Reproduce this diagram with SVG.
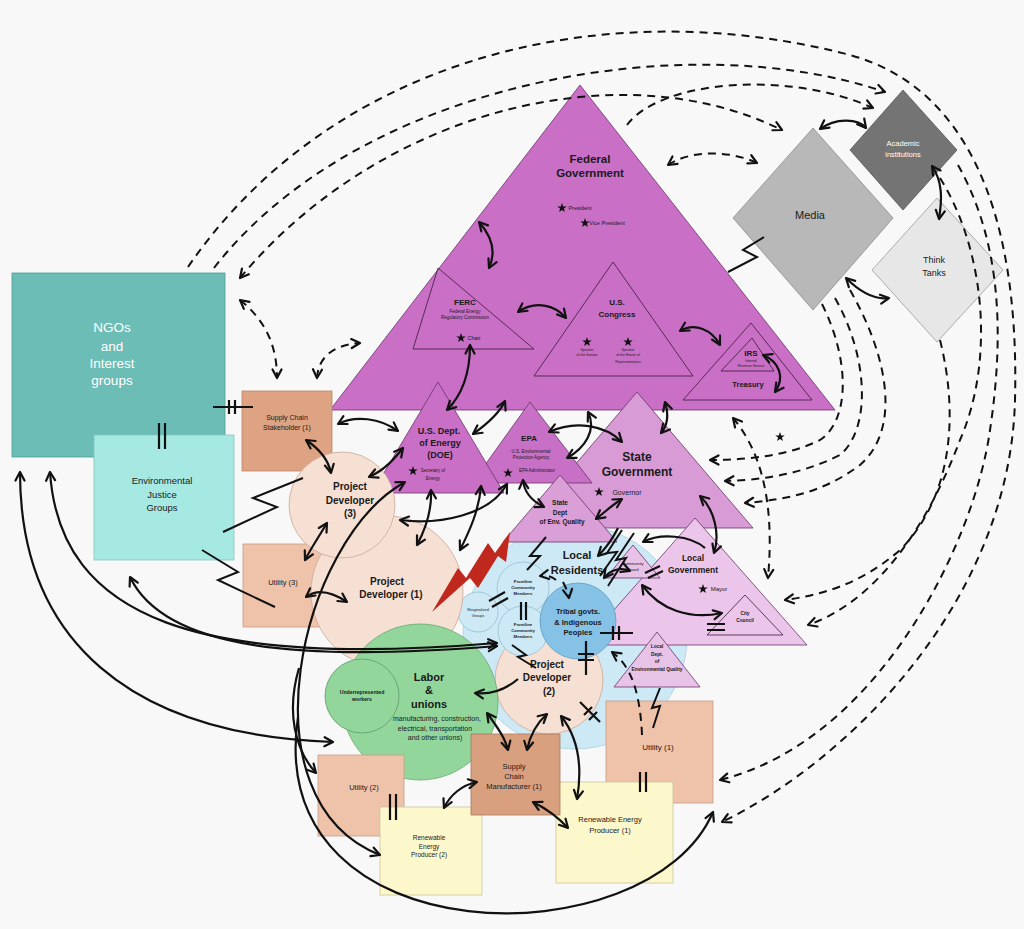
<svg xmlns="http://www.w3.org/2000/svg" width="1024" height="929" viewBox="0 0 1024 929">
<defs>
<marker id="a" viewBox="0 0 12 12" refX="10" refY="6" markerWidth="12" markerHeight="12" markerUnits="userSpaceOnUse" orient="auto-start-reverse"><path d="M1.5,1.5 L10,6 L1.5,10.5" fill="none" stroke="#111" stroke-width="2.2" stroke-linecap="round" stroke-linejoin="round"/></marker>
<path id="star" d="M0,-5 L1.18,-1.62 L4.76,-1.55 L1.9,0.62 L2.94,4.05 L0,2 L-2.94,4.05 L-1.9,0.62 L-4.76,-1.55 L-1.18,-1.62 Z" fill="#111"/>
</defs>
<style>
text{font-family:"Liberation Sans",Arial,sans-serif;text-anchor:middle;fill:#1a1a1a}
.b{font-weight:bold}
.w{fill:#fff}
.tri{stroke:#6a3468;stroke-width:0.8}
.sub{fill:none;stroke:#3a1a38;stroke-width:0.8}
.s2{fill:none;stroke:#111;stroke-width:2.2;marker-start:url(#a);marker-end:url(#a)}
.s1{fill:none;stroke:#111;stroke-width:2.2;marker-end:url(#a)}
.d2{fill:none;stroke:#111;stroke-width:2;stroke-dasharray:8 6;marker-start:url(#a);marker-end:url(#a)}
.d1{fill:none;stroke:#111;stroke-width:2;stroke-dasharray:8 6;marker-end:url(#a)}
.z{fill:none;stroke:#111;stroke-width:2;stroke-linejoin:miter}
.bar{fill:none;stroke:#111;stroke-width:2.2}
</style>
<rect width="1024" height="929" fill="#f8f8f8"/>

<g id="federal-government">
<polygon class="tri" points="580,85 835,410 330,410" fill="#c96fc6"/>
<text class="b" x="590" y="163" font-size="11.5">Federal</text>
<text class="b" x="590" y="177" font-size="11.5">Government</text>
<use href="#star" x="562" y="208"/><text x="580" y="210" font-size="5.5">President</text>
<use href="#star" x="585" y="223"/><text x="607" y="225" font-size="5.5">Vice President</text>
</g>
<g id="ferc">
<polygon class="sub" points="438,268 534,349 413,349"/>
<text class="b" x="465" y="305" font-size="8">FERC</text>
<text x="465" y="313" font-size="4.5">Federal Energy</text>
<text x="465" y="319" font-size="4.5">Regulatory Commission</text>
<use href="#star" x="461" y="338"/><text x="474" y="340" font-size="5.5">Chair</text>
</g>
<g id="us-congress">
<polygon class="sub" points="613,262 693,376 534,376"/>
<text class="b" x="617" y="305" font-size="8">U.S.</text>
<text class="b" x="617" y="317" font-size="8">Congress</text>
<use href="#star" x="587" y="342"/><use href="#star" x="628" y="342"/>
<text x="587" y="351" font-size="3.5">Speaker</text><text x="587" y="356" font-size="3.5">of the Senate</text>
<text x="628" y="351" font-size="3.5">Speaker</text><text x="628" y="356" font-size="3.5">of the House of</text><text x="628" y="363" font-size="3.5">Representatives</text>
</g>
<g id="irs-treasury">
<polygon class="sub" points="751,323 812,400 683,400"/>
<polygon class="sub" points="752,338 774,371 721,371"/>
<text class="b" x="751" y="356" font-size="8">IRS</text>
<text x="751" y="362" font-size="3.5">Internal</text>
<text x="751" y="367" font-size="3.5">Revenue Service</text>
<text class="b" x="748" y="387" font-size="7.5">Treasury</text>
</g>

<g id="media">
<polygon points="813,128 893,218 813,310 733,218" fill="#b8b8b8" stroke="#8c8c8c" stroke-width="0.8"/>
<text x="810" y="219" font-size="11">Media</text>
</g>
<g id="academic-institutions">
<polygon points="903,90 957,150 903,210 850,150" fill="#747474" stroke="#555" stroke-width="0.8"/>
<text class="w" x="903" y="146" font-size="7.5">Academic</text>
<text class="w" x="903" y="157" font-size="7.5">institutions</text>
</g>
<g id="think-tanks">
<polygon points="937,198 1003,270 937,342 872,270" fill="#e7e7e7" stroke="#9a9a9a" stroke-width="0.8"/>
<text x="934" y="263" font-size="9">Think</text>
<text x="934" y="276" font-size="9">Tanks</text>
</g>

<g id="ngos">
<rect x="12" y="273" width="213" height="184" fill="#6bbdb6" stroke="#4f9d97" stroke-width="0.8"/>
<text class="w" x="112" y="332" font-size="13.5">NGOs</text>
<text class="w" x="112" y="351" font-size="13.5">and</text>
<text class="w" x="112" y="368" font-size="13.5">Interest</text>
<text class="w" x="112" y="385" font-size="13.5">groups</text>
</g>
<g id="environmental-justice">
<rect x="94" y="435" width="140" height="125" fill="#a6e9e3" stroke="#84c4be" stroke-width="0.8"/>
<text x="162" y="484" font-size="9.5">Environmental</text>
<text x="162" y="498" font-size="9.5">Justice</text>
<text x="162" y="511" font-size="9.5">Groups</text>
</g>
<g id="supply-chain-stakeholder">
<rect x="242" y="391" width="90" height="80" fill="#dea382" stroke="#b98667" stroke-width="0.8"/>
<text x="287" y="420" font-size="7">Supply Chain</text>
<text x="287" y="430" font-size="7">Stakeholder (1)</text>
</g>

<g id="local-residents">
<circle cx="575" cy="637" r="112" fill="#cde9f5" stroke="#a9cfe0" stroke-width="0.8"/>
<text class="b" x="577" y="559" font-size="11">Local</text>
<text class="b" x="577" y="574" font-size="11">Residents</text>
</g>

<g id="state-government">
<polygon class="tri" points="637,392 753,528 521,528" fill="#d89bd5"/>
<text class="b" x="637" y="461" font-size="12">State</text>
<text class="b" x="637" y="476" font-size="12">Government</text>
<use href="#star" x="599" y="492"/><text x="627" y="495" font-size="7">Governor</text>
</g>
<g id="epa">
<polygon class="tri" points="530,402 592,483 472,483" fill="#c870c5"/>
<text class="b" x="529" y="441" font-size="8">EPA</text>
<text x="531" y="453" font-size="4.5">U.S. Environmental</text>
<text x="531" y="459" font-size="4.5">Protection Agency</text>
<use href="#star" x="508" y="473"/><text x="537" y="472" font-size="4.5">EPA Administrator</text>
</g>
<g id="doe">
<polygon class="tri" points="438,382 504,493 372,493" fill="#c96fc6"/>
<text class="b" x="439" y="434" font-size="9">U.S. Dept.</text>
<text class="b" x="440" y="446" font-size="9">of Energy</text>
<text class="b" x="440" y="458" font-size="9">(DOE)</text>
<use href="#star" x="413" y="471"/><text x="433" y="472" font-size="4.5">Secretary of</text><text x="433" y="480" font-size="4.5">Energy</text>
</g>
<g id="state-dept-env-quality">
<polygon class="tri" points="560,475 617,542 503,542" fill="#da9fd7"/>
<text class="b" x="560" y="505" font-size="6.5">State</text>
<text class="b" x="560" y="515" font-size="6.5">Dept</text>
<text class="b" x="562" y="524" font-size="6.5">of Env. Quality</text>
</g>

<g id="local-government">
<polygon class="tri" points="695,518 807,645 583,645" fill="#ebc6ea"/>
<text class="b" x="693" y="561" font-size="8.5">Local</text>
<text class="b" x="693" y="573" font-size="8.5">Government</text>
<use href="#star" x="703" y="589"/><text x="719" y="591" font-size="6">Mayor</text>
</g>
<g id="city-council">
<polygon class="sub" points="745,595 783,635 707,635"/>
<text class="b" x="745" y="615" font-size="4.8">City</text>
<text class="b" x="745" y="622" font-size="4.8">Council</text>
</g>
<g id="community-board">
<polygon class="tri" points="633,545 660,578 606,578" fill="#e7c1e6"/>
<text x="633" y="565" font-size="4.2">Community</text>
<text x="633" y="571" font-size="4.2">Board</text>
</g>
<g id="local-dept-env-quality">
<polygon class="tri" points="657,632 700,687 614,687" fill="#e8c3e8"/>
<text class="b" x="657" y="648" font-size="4.8">Local</text>
<text class="b" x="657" y="656" font-size="4.8">Dept.</text>
<text class="b" x="657" y="663" font-size="4.8">of</text>
<text class="b" x="657" y="671" font-size="4.8">Environmental Quality</text>
</g>

<g id="project-developer-2">
<circle cx="549" cy="680" r="54" fill="#f6e0d3" stroke="#c9a898" stroke-width="0.8"/>
<text class="b" x="547" y="668" font-size="10">Project</text>
<text class="b" x="547" y="681" font-size="10">Developer</text>
<text class="b" x="549" y="695" font-size="10">(2)</text>
</g>

<g id="marginalized-groups">
<circle cx="478" cy="612" r="20" fill="#cde9f5" stroke="#8fb8cc" stroke-width="0.7"/>
<text x="478" y="611" font-size="3.8">Marginalized</text>
<text x="478" y="617" font-size="3.8">Groups</text>
</g>
<g id="frontline-community-1">
<circle cx="523" cy="588" r="26" fill="#cde9f5" stroke="#8fb8cc" stroke-width="0.7"/>
<text class="b" x="523" y="583" font-size="4.3">Frontline</text>
<text class="b" x="523" y="589" font-size="4.3">Community</text>
<text class="b" x="523" y="595" font-size="4.3">Members</text>
</g>
<g id="frontline-community-2">
<circle cx="523" cy="631" r="25" fill="#cde9f5" stroke="#8fb8cc" stroke-width="0.7"/>
<text class="b" x="523" y="626" font-size="4.3">Frontline</text>
<text class="b" x="523" y="632" font-size="4.3">Community</text>
<text class="b" x="523" y="638" font-size="4.3">Members</text>
</g>
<g id="tribal-govts">
<circle cx="578" cy="621" r="38" fill="#86c1e6" stroke="#5c9cc2" stroke-width="0.8"/>
<text class="b" x="578" y="614" font-size="7.5">Tribal govts.</text>
<text class="b" x="578" y="625" font-size="7.5">&amp; Indigenous</text>
<text class="b" x="578" y="635" font-size="7.5">Peoples</text>
</g>

<g id="utility-3">
<rect x="243" y="544" width="87" height="83" fill="#efc2aa" stroke="#c79d86" stroke-width="0.8"/>
<text x="283" y="585" font-size="7.5">Utility (3)</text>
</g>
<g id="project-developer-1">
<circle cx="387" cy="592" r="76" fill="#f6e0d3" stroke="#c9a898" stroke-width="0.8"/>
<text class="b" x="387" y="585" font-size="10">Project</text>
<text class="b" x="391" y="598" font-size="10">Developer (1)</text>
</g>
<g id="project-developer-3">
<circle cx="342" cy="505" r="53" fill="#f6e0d3" stroke="#c9a898" stroke-width="0.8"/>
<text class="b" x="350" y="490" font-size="10">Project</text>
<text class="b" x="350" y="504" font-size="10">Developer</text>
<text class="b" x="350" y="517" font-size="10">(3)</text>
</g>

<g id="red-bolt">
<polygon points="432,612 458,568 466,578 488,543 495,553 510,532 506,562 498,556 478,588 470,578" fill="#c0281e"/>
</g>

<g id="labor-unions">
<circle cx="420" cy="702" r="78" fill="#92d69c" stroke="#6aa872" stroke-width="0.8"/>
<text class="b" x="429" y="681" font-size="11">Labor</text>
<text class="b" x="429" y="694" font-size="11">&amp;</text>
<text class="b" x="429" y="708" font-size="11">unions</text>
<text x="437" y="721" font-size="7">manufacturing, construction,</text>
<text x="435" y="731" font-size="7">electrical, transportation</text>
<text x="435" y="740" font-size="7">and other unions)</text>
</g>
<g id="underrepresented-workers">
<circle cx="362" cy="696" r="37" fill="#92d69c" stroke="#5f9a67" stroke-width="0.8"/>
<text class="b" x="362" y="694" font-size="5.2">Underrepresented</text>
<text class="b" x="362" y="701" font-size="5.2">workers</text>
</g>

<g id="utility-1">
<rect x="606" y="701" width="107" height="102" fill="#efc2aa" stroke="#c79d86" stroke-width="0.8"/>
<text x="658" y="750" font-size="8">Utility (1)</text>
</g>
<g id="renewable-energy-producer-1">
<rect x="556" y="782" width="117" height="101" fill="#fdf8cc" stroke="#c9c49c" stroke-width="0.8"/>
<text x="610" y="822" font-size="7.5">Renewable Energy</text>
<text x="610" y="833" font-size="7.5">Producer (1)</text>
</g>
<g id="utility-2">
<rect x="318" y="755" width="86" height="81" fill="#efc2aa" stroke="#c79d86" stroke-width="0.8"/>
<text x="364" y="790" font-size="7.5">Utility (2)</text>
</g>
<g id="renewable-energy-producer-2">
<rect x="380" y="807" width="102" height="88" fill="#fdf8cc" stroke="#c9c49c" stroke-width="0.8"/>
<text x="429" y="840" font-size="6.5">Renewable</text>
<text x="429" y="849" font-size="6.5">Energy</text>
<text x="429" y="857" font-size="6.5">Producer (2)</text>
</g>
<g id="supply-chain-manufacturer">
<rect x="471" y="734" width="89" height="81" fill="#d9a07f" stroke="#a9795d" stroke-width="0.8"/>
<text x="514" y="769" font-size="7.5">Supply</text>
<text x="514" y="779" font-size="7.5">Chain</text>
<text x="514" y="789" font-size="7.5">Manufacturer (1)</text>
</g>

<use href="#star" x="780" y="437"/>

<g id="connectors">
<!-- dashed influence arcs -->
<path class="d1" d="M188,267 C330,60 600,-10 850,55 C960,85 1020,200 1015,400 C1010,600 850,760 722,822"/>
<path class="d1" d="M214,268 C360,80 690,25 885,92"/>
<path class="d2" d="M240,278 C380,110 620,50 782,130"/>
<path class="d1" d="M627,125 C660,80 790,70 873,108"/>
<path class="d2" d="M668,165 C690,150 730,150 757,163"/>
<path class="d1" d="M958,165 C1000,240 1005,330 990,430 C975,540 880,740 720,780"/>
<path class="d1" d="M940,178 C985,250 995,360 960,440 C930,520 880,600 808,625"/>
<path class="d1" d="M940,340 C960,420 950,500 900,550 C860,585 820,595 785,600"/>
<path class="d1" d="M850,290 C890,360 900,430 860,465 C820,495 780,500 745,503"/>
<path class="d1" d="M835,298 C870,360 870,430 840,455 C800,475 760,480 725,481"/>
<path class="d1" d="M822,304 C850,360 850,420 820,440 C790,455 750,460 710,460"/>
<path class="d2" d="M733,418 C760,450 775,500 768,578"/>
<path class="d2" d="M240,300 C265,320 277,345 277,378"/>
<path class="d2" d="M317,378 C318,360 330,345 360,343"/>
<path class="d1" d="M642,735 C640,690 630,665 612,652"/>
<path class="d1" d="M563,582 C566,588 568,592 569,598"/>
<path class="d1" d="M556,580 C551,576 546,575 540,576"/>

<!-- solid relationships -->
<path class="s2" d="M479,222 C495,240 495,255 489,268"/>
<path class="s2" d="M518,312 C535,300 555,305 566,318"/>
<path class="s2" d="M680,331 C695,322 712,330 720,345"/>
<path class="s2" d="M763,355 C780,362 785,378 775,392"/>
<path class="s2" d="M470,345 C470,375 462,395 447,410"/>
<path class="s2" d="M473,434 C490,422 500,412 505,401"/>
<path class="s2" d="M338,424 C355,415 380,418 398,431"/>
<path class="s2" d="M306,440 C318,448 328,458 331,473"/>
<path class="s2" d="M403,448 C395,458 385,470 369,477"/>
<path class="s2" d="M327,523 C318,538 310,550 305,560"/>
<path class="s2" d="M306,597 C318,588 332,592 347,602"/>
<path class="s2" d="M549,432 C575,420 605,425 622,442"/>
<path class="s2" d="M588,412 C597,430 585,448 567,458"/>
<path class="s2" d="M665,402 C669,415 667,426 661,433"/>
<path class="s2" d="M523,480 C524,492 532,501 544,507"/>
<path class="s2" d="M596,519 C605,512 612,505 622,499"/>
<path class="s2" d="M700,496 C715,510 720,535 714,553"/>
<path class="s2" d="M431,490 C432,510 425,530 417,545"/>
<path class="s2" d="M481,486 C479,510 470,530 460,550"/>
<path class="s2" d="M507,484 C490,515 440,525 400,520"/>
<path class="s1" d="M518,679 C505,690 492,695 475,693"/>
<path class="s2" d="M487,713 C498,728 505,738 508,750"/>
<path class="s2" d="M527,750 C530,735 538,722 547,714"/>
<path class="s2" d="M561,716 C580,740 582,770 577,799"/>
<path class="s2" d="M477,782 C462,785 450,795 444,808"/>
<path class="s2" d="M533,802 C545,808 556,815 568,828"/>
<path class="s1" d="M705,548 C690,535 660,533 643,542"/>
<path class="s2" d="M604,578 C610,570 620,567 630,571"/>
<path class="s2" d="M642,585 C660,610 690,620 722,613"/>
<path class="s1" d="M618,528 C612,540 606,548 598,556"/>
<path class="s2" d="M820,129 C835,118 858,118 866,128"/>
<path class="s2" d="M932,166 C943,182 942,200 939,219"/>
<path class="s2" d="M846,278 C860,292 875,300 889,298"/>
<path class="s2" d="M20,472 C20,640 130,735 333,742"/>
<path class="s2" d="M50,472 C60,620 200,668 497,643"/>
<path class="s2" d="M130,577 C165,650 300,662 497,646"/>
<path class="s2" d="M405,482 C300,540 240,800 380,855"/>
<path class="s1" d="M299,668 C286,712 295,750 316,773"/>
<path class="s1" d="M298,717 C262,960 650,960 713,812"/>

<!-- conflict zigzags -->
<polyline class="z" points="728,272 757,257 743,250 764,237"/>
<polyline class="z" points="223,532 277,507 253,498 303,478"/>
<polyline class="z" points="202,550 238,572 218,580 275,607"/>
<polyline class="z" points="546,537 530,556 540,556 527,570"/>
<polyline class="z" points="622,530 607,553 617,552 600,576"/>
<polyline class="z" points="634,533 616,560 626,558 608,586"/>
<polyline class="z" points="660,688 652,708 660,706 653,728"/>
<polyline class="z" points="512,645 526,655 518,657 536,668"/>

<!-- barriers -->
<path class="bar" d="M213,407 H253 M229,400 V414 M235,400 V414"/>
<path class="bar" d="M159,423 V449 M165,423 V449"/>
<path class="bar" d="M521,602 V620 M526,602 V620"/>
<path class="bar" d="M489,601 L505,592 M492,607 L508,598"/>
<path class="bar" d="M600,633 H633 M613,626 V640 M619,626 V640"/>
<path class="bar" d="M586,641 V675 M578,654 H594 M578,660 H594"/>
<path class="bar" d="M580,702 L600,722 M584,715 L592,707 M589,720 L597,712"/>
<path class="bar" d="M645,573 L660,566 M648,578 L663,571"/>
<path class="bar" d="M707,624 H725 M707,630 H725"/>
<path class="bar" d="M390,794 V820 M396,794 V820"/>
<path class="bar" d="M640,772 V792 M646,772 V792"/>
</g>
</svg>
